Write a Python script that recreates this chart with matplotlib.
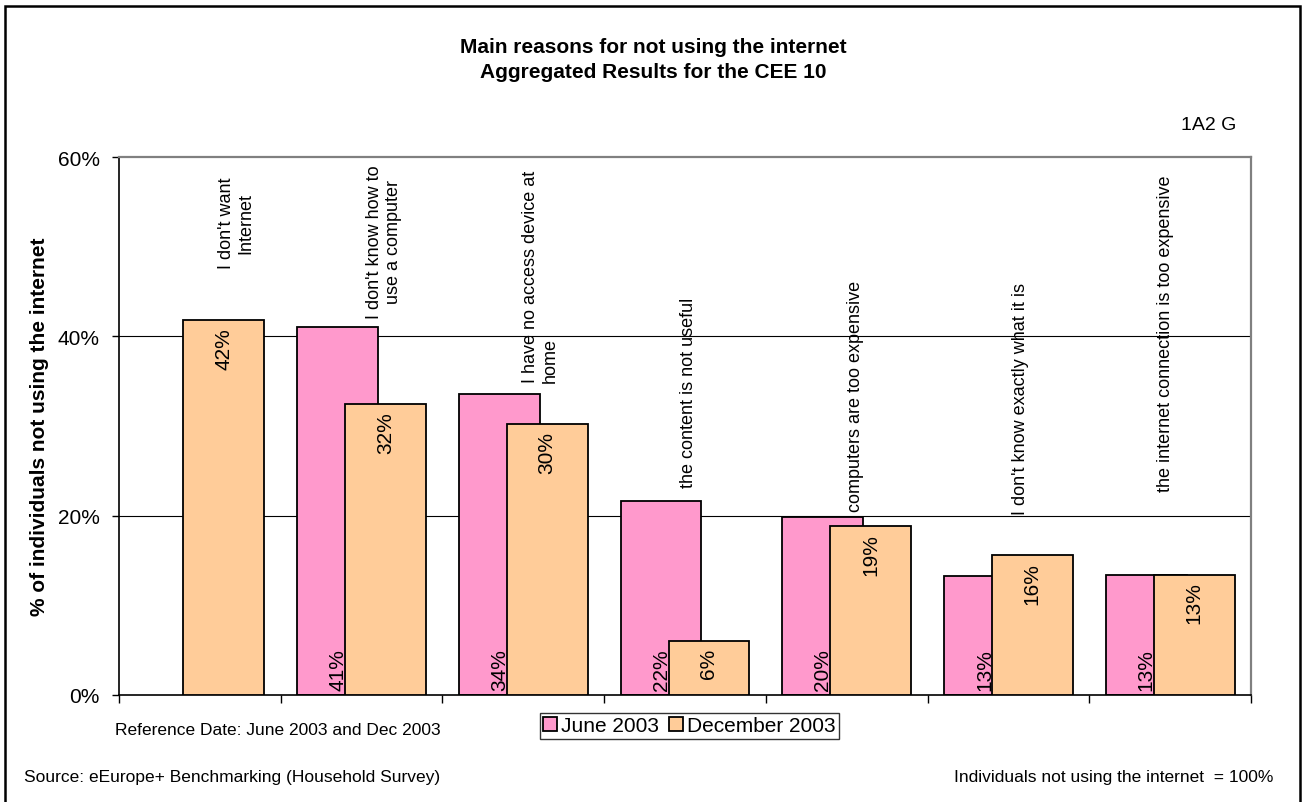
"""Main reasons for not using the internet, CEE 10 aggregate (June vs Dec 2003)."""

import matplotlib

matplotlib.use("Agg")
import matplotlib.pyplot as plt
import numpy as np
from matplotlib.patches import Rectangle

plt.rcParams["font.family"] = ["Liberation Sans", "DejaVu Sans"]

# Data (percent of non-users).
reasons = [
    "I don't want\nInternet",
    "I don't know how to\nuse a computer",
    "I have no access device at\nhome",
    "the content is not useful",
    "computers are too expensive",
    "I don't know exactly what it is",
    "the internet connection is too expensive",
]
june_2003 = [np.nan, 41.0, 33.6, 21.6, 19.8, 13.3, 13.4]
dec_2003 = [41.8, 32.4, 30.2, 6.0, 18.8, 15.6, 13.4]
series_names = ["June 2003", "December 2003"]
yticks = [0, 20, 40, 60]

PINK = "#FF99CC"
ORANGE = "#FFCC99"

W, H = 1306, 803


def px_x(px):
    return px / W


def px_y(py):
    return 1 - py / H


def main():
    fig = plt.figure(figsize=(W / 100, H / 100), dpi=100)
    ax = fig.add_axes([px_x(119), px_y(696), px_x(1251) - px_x(119),
                       px_y(158) - px_y(696)])

    x = np.arange(len(reasons))
    width = 0.5
    off = 0.148
    ax.bar(x - off, june_2003, width, color=PINK, edgecolor="black",
           linewidth=1.3, zorder=2, label=series_names[0])
    ax.bar(x + off, dec_2003, width, color=ORANGE, edgecolor="black",
           linewidth=1.3, zorder=4, label=series_names[1])

    # Value labels: June inside base, December inside end.
    for xi, v in zip(x, june_2003):
        if np.isnan(v):
            continue
        ax.text(xi - off, 0.6, f"{v:.0f}%", rotation=90, ha="center",
                va="bottom", fontsize=15, zorder=3)
    for xi, v in zip(x, dec_2003):
        ax.text(xi + off, v - 0.75, f"{v:.0f}%", rotation=90, ha="center",
                va="top", fontsize=15, zorder=5)

    # Category names sit above the bars as rotated text boxes.
    label_pos = [(236.5, 223), (384, 241.5), (540.5, 276), (688, 392.5),
                 (855, 396.5), (1020, 398.5), (1165, 333)]
    for i, (txt, (px, py)) in enumerate(zip(reasons, label_pos)):
        xd = (px - 119) / 161.7 - 0.5
        yd = (696 - py) / 8.975
        ax.text(xd, yd, txt, rotation=90, ha="center", va="center",
                fontsize=13, multialignment="left" if i == 2 else "center",
                zorder=6)

    ax.set_xlim(-0.5, len(reasons) - 0.5)
    ax.set_ylim(0, 60)
    ax.set_yticks(yticks)
    ax.set_yticklabels([f"{t}%" for t in yticks], fontsize=15)
    ax.set_xticks(np.arange(len(reasons) + 1) - 0.5)
    ax.set_xticklabels([])
    ax.tick_params(axis="y", length=5, width=1, pad=9)
    ax.tick_params(axis="x", length=6, width=1)
    for t in (20, 40):
        ax.axhline(t, color="black", linewidth=0.8, zorder=1)
    for side in ("left", "bottom"):
        ax.spines[side].set_color("black")
        ax.spines[side].set_linewidth(1.2)
    for side in ("top", "right"):
        ax.spines[side].set_color("#808080")
        ax.spines[side].set_linewidth(1.6)

    fig.text(px_x(40), px_y(427), "% of individuals not using the internet",
             rotation=90, ha="center", va="center", fontsize=15,
             fontweight="bold")
    fig.text(0.5, px_y(60),
             "Main reasons for not using the internet\nAggregated Results for the CEE 10",
             ha="center", va="center", fontsize=15, fontweight="bold",
             linespacing=1.4)
    fig.text(px_x(1236), px_y(126), "1A2 G", ha="right", va="center",
             fontsize=14)

    leg = fig.legend(loc="center", bbox_to_anchor=(px_x(689.5), px_y(727)),
                     ncol=2, fontsize=15, frameon=True, fancybox=False,
                     edgecolor="black", handlelength=0.65, handleheight=0.65,
                     handletextpad=0.2, columnspacing=0.5, borderpad=0.15,
                     borderaxespad=0)
    leg.get_frame().set_linewidth(1.0)

    fig.text(px_x(115), px_y(731), "Reference Date: June 2003 and Dec 2003",
             ha="left", va="center", fontsize=12.5)
    fig.text(px_x(24), px_y(778), "Source: eEurope+ Benchmarking (Household Survey)",
             ha="left", va="center", fontsize=12.5)
    fig.text(px_x(1273), px_y(778), "Individuals not using the internet  = 100%",
             ha="right", va="center", fontsize=12.5)

    # Outer chart frame.
    fig.patches.append(Rectangle((px_x(5), -0.01), px_x(1300) - px_x(5),
                                 px_y(7) + 0.01, transform=fig.transFigure,
                                 fill=False, edgecolor="black", linewidth=1.8))

    fig.savefig("out.png", dpi=100)


if __name__ == "__main__":
    main()
